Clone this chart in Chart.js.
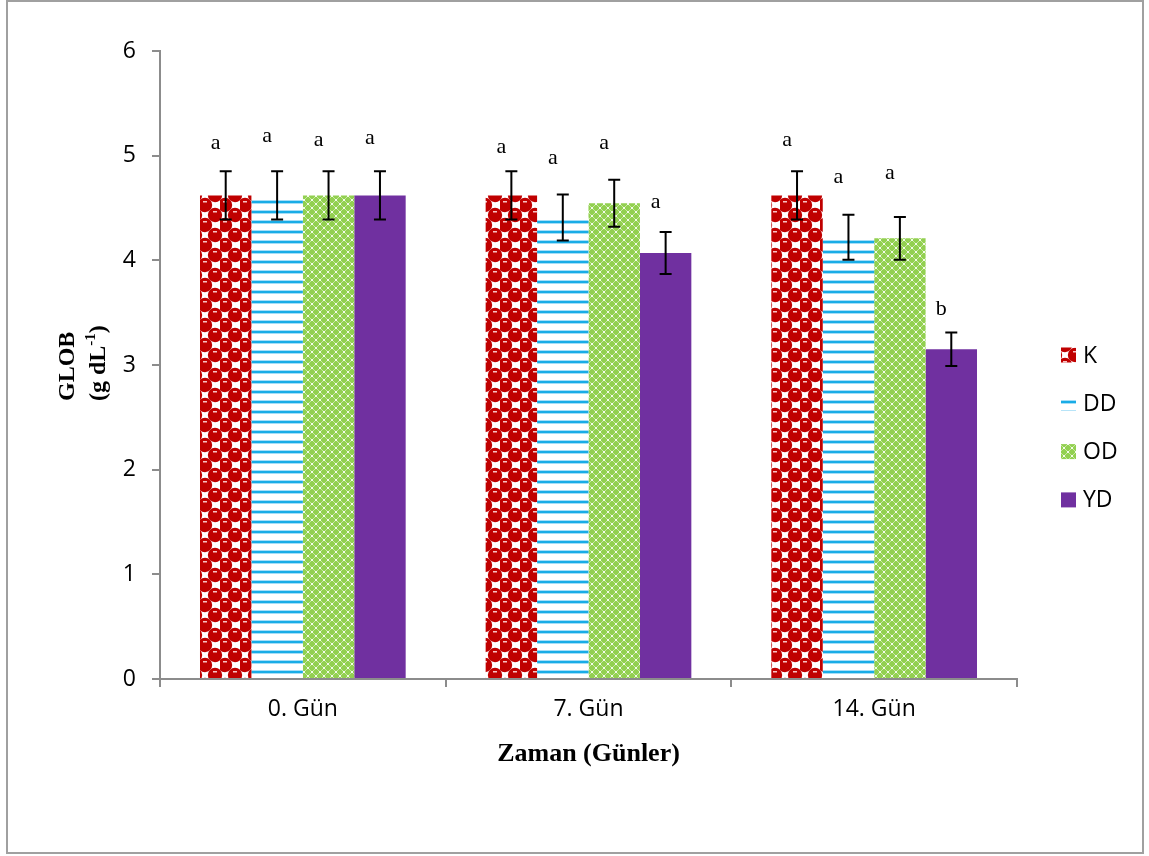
<!DOCTYPE html>
<html>
<head>
<meta charset="utf-8">
<script src="https://cdn.jsdelivr.net/npm/chart.js@4"></script>
<style>
  html, body { margin: 0; padding: 0; background: #fff; }
  canvas { display: block; }
</style>
</head>
<body>
<canvas id="c" width="1149" height="856"></canvas>
<script>
// ---- data ----
const categories = ['0. Gün', '7. Gün', '14. Gün'];
const seriesNames = ['K', 'DD', 'OD', 'YD'];
const valuesK  = [4.62, 4.62, 4.62];
const valuesDD = [4.62, 4.41, 4.22];
const valuesOD = [4.62, 4.545, 4.21];
const valuesYD = [4.62, 4.07, 3.15];
const errK  = [0.23, 0.23, 0.23];
const errDD = [0.23, 0.22, 0.215];
const errOD = [0.23, 0.225, 0.205];
const errYD = [0.23, 0.20, 0.16];
const lettersK  = ['a', 'a', 'a'];
const lettersDD = ['a', 'a', 'a'];
const lettersOD = ['a', 'a', 'a'];
const lettersYD = ['a', 'a', 'b'];
const letterLevelK  = [5.06, 5.03, 5.09];
const letterLevelDD = [5.13, 4.92, 4.74];
const letterLevelOD = [5.09, 5.06, 4.78];
const letterLevelYD = [5.11, 4.50, 3.48];
const yTicks = [0, 1, 2, 3, 4, 5, 6];

// ---- patterns ----
function makeTile(w, h, draw) {
  const c = document.createElement('canvas');
  c.width = w; c.height = h;
  const g = c.getContext('2d');
  draw(g, w, h);
  return document.getElementById('c').getContext('2d').createPattern(c, 'repeat');
}
const patK = makeTile(20, 20, (g) => {
  g.fillStyle = '#ffffff'; g.fillRect(0, 0, 20, 20);
  const centers = [[5,5],[15,15],[-5,15],[25,15],[5,-5],[15,-5],[5,25],[15,25],[-5,-5],[25,25],[25,-5],[-5,25]];
  centers.forEach(([cx, cy]) => {
    g.fillStyle = '#c00000';
    g.beginPath(); g.arc(cx, cy, 7.2, 0, Math.PI * 2); g.fill();
  });
  [[5,5],[15,15],[-5,15],[25,15],[5,-5],[15,-5],[5,25],[15,25]].forEach(([cx, cy]) => {
    g.fillStyle = 'rgba(255,215,215,0.9)';
    g.fillRect(cx - 2, cy - 4, 4, 1.5);
  });
});
const patDD = makeTile(10, 10, (g) => {
  g.fillStyle = '#ffffff'; g.fillRect(0, 0, 10, 10);
  g.fillStyle = '#a6def7'; g.fillRect(0, 0, 10, 1);
  g.fillStyle = '#19ace6'; g.fillRect(0, 1, 10, 2);
  g.fillStyle = '#a6def7'; g.fillRect(0, 3, 10, 1);
});
const patOD = makeTile(8, 8, (g) => {
  g.fillStyle = '#92d050'; g.fillRect(0, 0, 8, 8);
  g.fillStyle = '#c8e8a2';
  for (let i = 0; i < 8; i++) { g.fillRect(i, i, 1, 1); g.fillRect(7 - i, i, 1, 1); }
  g.fillStyle = '#f2faea';
  g.fillRect(3, 3, 2, 2);
  g.fillRect(0, 0, 1, 1); g.fillRect(7, 0, 1, 1); g.fillRect(0, 7, 1, 1); g.fillRect(7, 7, 1, 1);
});
const colYD = '#7030a0';

const seriesValues = [valuesK, valuesDD, valuesOD, valuesYD];
const seriesErr = [errK, errDD, errOD, errYD];
const seriesLetters = [lettersK, lettersDD, lettersOD, lettersYD];
const seriesLetterLevels = [letterLevelK, letterLevelDD, letterLevelOD, letterLevelYD];
const seriesFills = [patK, patDD, patOD, colYD];

const AXIS_GRAY = '#8c8c8c';
const SANS = "'Open Sans', 'Noto Sans', sans-serif";
const SERIF = "'Liberation Serif', 'DejaVu Serif', serif";

const decorPlugin = {
  id: 'decor',
  beforeDraw(chart) {
    const ctx = chart.ctx;
    ctx.save();
    ctx.fillStyle = '#fff';
    ctx.fillRect(0, 0, chart.width, chart.height);
    ctx.strokeStyle = '#a0a0a0';
    ctx.lineWidth = 2;
    ctx.strokeRect(7, 1, 1136, 852);
    ctx.restore();
  },
  afterDatasetsDraw(chart) {
    const ctx = chart.ctx;
    const ys = chart.scales.y;
    ctx.save();
    chart.data.datasets.forEach((ds, di) => {
      const meta = chart.getDatasetMeta(di);
      meta.data.forEach((el, i) => {
        const v = ds.data[i];
        const e = seriesErr[di][i];
        const x = el.x;
        const yT = ys.getPixelForValue(v + e);
        const yB = ys.getPixelForValue(v - e);
        ctx.strokeStyle = '#000';
        ctx.lineWidth = 2;
        ctx.beginPath();
        ctx.moveTo(x, yT); ctx.lineTo(x, yB);
        ctx.moveTo(x - 6, yT); ctx.lineTo(x + 6, yT);
        ctx.moveTo(x - 6, yB); ctx.lineTo(x + 6, yB);
        ctx.stroke();
        // significance letter
        ctx.fillStyle = '#000';
        ctx.font = '22px ' + SERIF;
        ctx.textAlign = 'center';
        ctx.textBaseline = 'alphabetic';
        ctx.fillText(seriesLetters[di][i], x - 10, ys.getPixelForValue(seriesLetterLevels[di][i]));
      });
    });
    ctx.restore();
  },
  afterDraw(chart) {
    const ctx = chart.ctx;
    const ca = chart.chartArea;
    ctx.save();
    // x axis title
    ctx.fillStyle = '#000';
    ctx.font = 'bold 26px ' + SERIF;
    ctx.textAlign = 'center';
    ctx.textBaseline = 'middle';
    ctx.fillText('Zaman (Günler)', (ca.left + ca.right) / 2, 754);
    // y axis title
    ctx.save();
    ctx.translate(68, 401);
    ctx.rotate(-Math.PI / 2);
    ctx.textAlign = 'left';
    ctx.textBaseline = 'middle';
    ctx.font = 'bold 24px ' + SERIF;
    ctx.fillText('GLOB', 0, 0);
    ctx.restore();
    ctx.save();
    ctx.translate(99, 401);
    ctx.rotate(-Math.PI / 2);
    ctx.textAlign = 'left';
    ctx.textBaseline = 'middle';
    ctx.font = 'bold 24px ' + SERIF;
    let px = 0;
    const p1 = '(g dL';
    ctx.fillText(p1, px, 0); px += ctx.measureText(p1).width;
    ctx.font = 'bold 15px ' + SERIF;
    ctx.fillText('-1', px, -8); px += ctx.measureText('-1').width;
    ctx.font = 'bold 24px ' + SERIF;
    ctx.fillText(')', px, 0);
    ctx.restore();
    // legend
    chart.data.datasets.forEach((ds, i) => {
      const cy = 355 + i * 48.3;
      ctx.fillStyle = ds.backgroundColor;
      ctx.fillRect(1061, cy - 7.5, 15, 15);
      ctx.fillStyle = '#000';
      ctx.font = '23px ' + SANS;
      ctx.textAlign = 'left';
      ctx.textBaseline = 'middle';
      ctx.fillText(ds.label, 1083, cy + 1);
    });
    ctx.restore();
  }
};

new Chart(document.getElementById('c'), {
  type: 'bar',
  data: {
    labels: categories,
    datasets: seriesNames.map((name, i) => ({
      label: name,
      data: seriesValues[i],
      backgroundColor: seriesFills[i],
      borderWidth: 0,
      categoryPercentage: 0.72,
      barPercentage: 1.0
    }))
  },
  options: {
    responsive: false,
    animation: false,
    devicePixelRatio: 1,
    layout: { padding: { left: 0, top: 51, right: 132, bottom: 0 } },
    plugins: { legend: { display: false }, tooltip: { enabled: false }, title: { display: false } },
    scales: {
      x: {
        grid: { display: true, drawOnChartArea: false, drawTicks: true, tickLength: 8, color: AXIS_GRAY, lineWidth: 2, offset: true },
        border: { display: true, color: AXIS_GRAY, width: 2 },
        ticks: { color: '#000', font: { family: SANS, size: 23 }, padding: 9 },
        afterFit: (s) => { s.height = 177; }
      },
      y: {
        min: 0, max: 6,
        afterBuildTicks: (s) => { s.ticks = yTicks.map(v => ({ value: v })); },
        grid: { display: true, drawOnChartArea: false, drawTicks: true, tickLength: 8, color: AXIS_GRAY, lineWidth: 2 },
        border: { display: true, color: AXIS_GRAY, width: 2 },
        ticks: { color: '#000', font: { family: SANS, size: 23 }, padding: 16 },
        afterFit: (s) => { s.width = 160; }
      }
    }
  },
  plugins: [decorPlugin]
});
</script>
</body>
</html>
